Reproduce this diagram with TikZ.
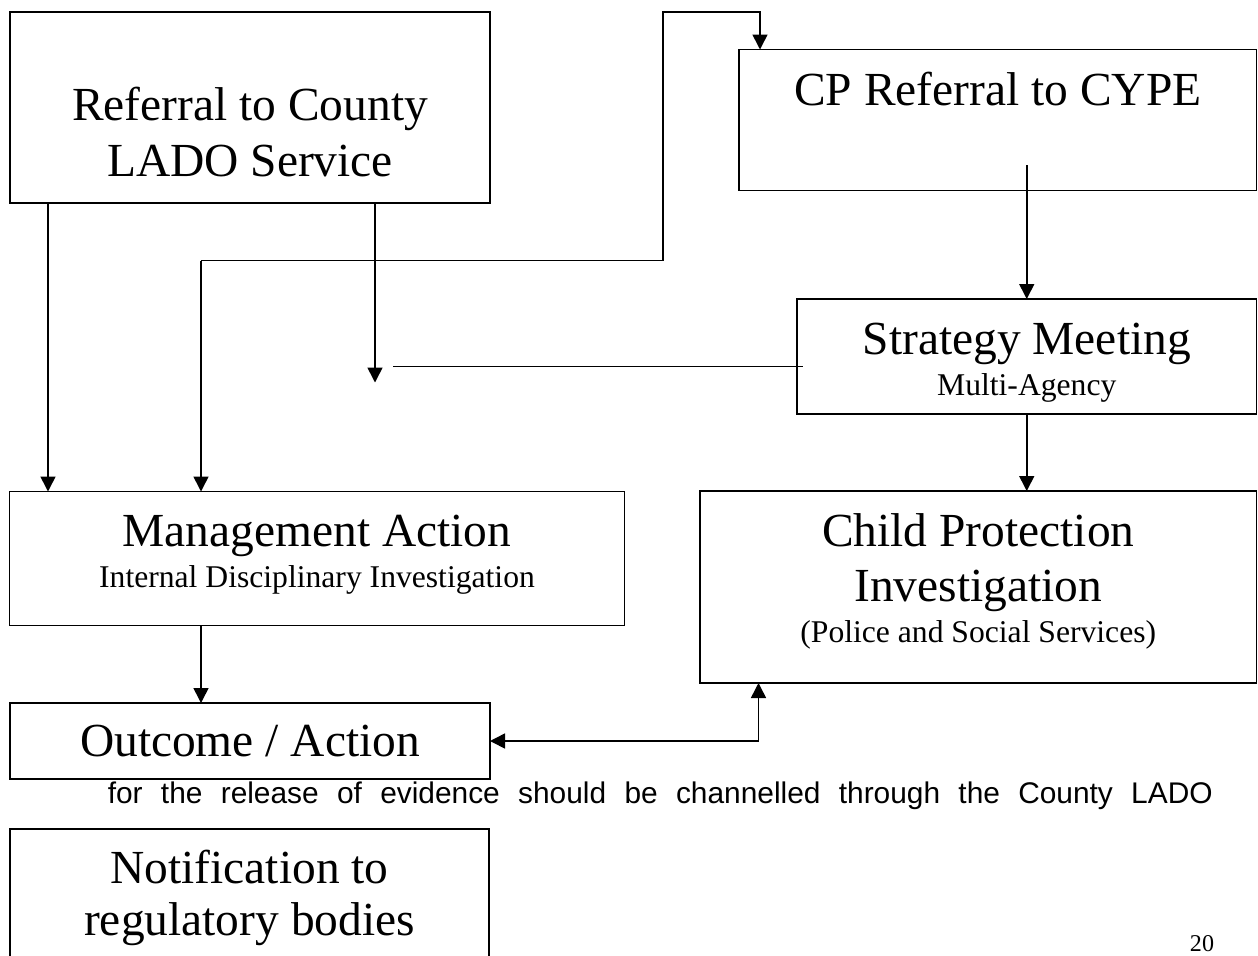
\documentclass[tikz,border=0pt]{standalone}
\usepackage{fontspec}
\setmainfont{Liberation Serif}
\newfontfamily\arialfont{Liberation Sans}
\usetikzlibrary{arrows.meta}

\begin{document}
\begin{tikzpicture}[line width=0.9pt, >={Triangle[length=3mm,width=3mm]},
  box/.style={draw, line width=1pt, inner sep=0pt, outer sep=0pt, anchor=north west},
  big/.style={anchor=base, inner sep=0pt, font=\fontsize{27}{32}\selectfont},
  small/.style={anchor=base, inner sep=0pt, font=\fontsize{18}{21}\selectfont}]
\useasboundingbox (0,0) rectangle (25.16,-19.1);
\node [box, minimum width=9.6cm, minimum height=3.82cm] (ref) at (0.2,-0.24) {};
\node [box, minimum width=10.35cm, minimum height=2.82cm] (cp) at (14.78,-0.99) {};
\node [box, minimum width=9.19cm, minimum height=2.3cm] (strat) at (15.94,-5.98) {};
\node [box, minimum width=12.3cm, minimum height=2.68cm] (mgmt) at (0.19,-9.83) {};
\node [box, minimum width=11.13cm, minimum height=3.84cm] (child) at (14.0,-9.82) {};
\node [box, minimum width=9.6cm, minimum height=1.52cm] (outc) at (0.2,-14.06) {};
\node [box, minimum width=9.58cm, minimum height=3.5cm] (notif) at (0.2,-16.58) {};
\node [big] (refA) at (5.0,-2.4) {Referral to County};
\node [big] (refB) at (5.0,-3.52) {LADO Service};
\node [big] (cpA) at (19.955,-2.1) {CP Referral to CYPE};
\node [big] (stratA) at (20.535,-7.08) {Strategy Meeting};
\node [small] (stratB) at (20.535,-7.9) {Multi-Agency};
\node [big] (mgmtA) at (6.34,-10.92) {Management Action};
\node [small] (mgmtB) at (6.34,-11.74) {Internal Disciplinary Investigation};
\node [big] (childA) at (19.565,-10.92) {Child Protection};
\node [big] (childB) at (19.565,-12.02) {Investigation};
\node [small] (childC) at (19.565,-12.84) {(Police and Social Services)};
\node [big] (outcA) at (5.0,-15.12) {Outcome / Action};
\node [big] (notifA) at (4.99,-17.66) {Notification to};
\node [big] (notifB) at (4.99,-18.7) {regulatory bodies};
\node [anchor=base west, inner sep=0pt, font=\arialfont\fontsize{17}{20}\selectfont] (note) at (2.14,-16.06)
  {\makebox[22.1cm][s]{for the release of evidence should be channelled through the County LADO}};
\node [anchor=base, inner sep=0pt, font=\fontsize{13.7}{16}\selectfont] (page) at (24.04,-19.02) {20};
\coordinate (m1) at (7.5,-7.65);
\coordinate (m2) at (7.86,-7.33);
\coordinate (j) at (4.02,-5.21);
\draw [->] ([xshift=0.76cm]ref.south west) -- ([xshift=0.77cm]mgmt.north west);
\draw [->] ([xshift=7.3cm]ref.south west) -- (m1);
\draw (m2) -- ([xshift=0.12cm]m2 -| strat.west);
\draw [->] (j) -- (j |- mgmt.north);
\draw [->] (j) -| ([xshift=13.06cm]ref.north west) -| ([xshift=0.42cm]cp.north west);
\draw [->] ([yshift=0.51cm]cp.south -| strat.north) -- (strat.north);
\draw [->] (strat.south) -- (strat.south |- child.north);
\draw [->] (j |- mgmt.south) -- (j |- outc.north);
\draw [<->] (outc.east) -| ([xshift=1.17cm]child.south west);
\end{tikzpicture}
\end{document}
